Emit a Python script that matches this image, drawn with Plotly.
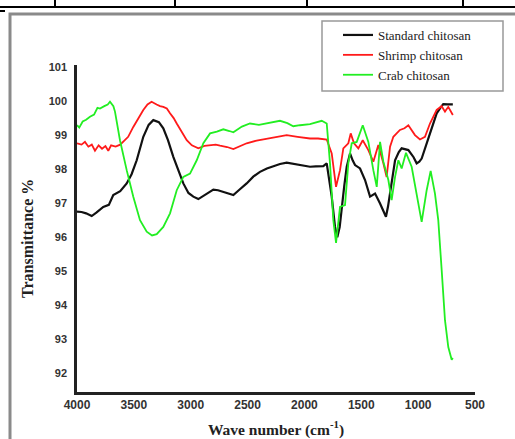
import plotly.graph_objects as go

# ---- data ----
std_wn = [4000, 3960, 3920, 3871, 3830, 3769, 3720, 3681, 3620, 3563, 3520, 3475, 3417, 3370, 3329,
          3280, 3241, 3200, 3153, 3110, 3065, 3020, 2977, 2933, 2870, 2801, 2760, 2713, 2670, 2625,
          2570, 2508, 2450, 2391, 2330, 2274, 2215, 2156, 2098, 2039, 1951, 1900, 1834, 1804, 1760,
          1731, 1711, 1690, 1672, 1650, 1628, 1599, 1575, 1555, 1511, 1467, 1423, 1400, 1379, 1335,
          1283, 1265, 1247, 1225, 1203, 1170, 1145, 1086, 1040, 1013, 990, 969, 940, 910, 870, 837,
          800, 779, 740, 695]
std_t = [96.75, 96.74, 96.70, 96.62, 96.72, 96.89, 96.95, 97.24, 97.35, 97.58, 97.85, 98.26, 98.95, 99.30, 99.44,
         99.38, 99.20, 98.85, 98.36, 97.95, 97.58, 97.30, 97.19, 97.12, 97.25, 97.40, 97.38, 97.33, 97.30, 97.24,
         97.40, 97.58, 97.78, 97.92, 98.02, 98.09, 98.15, 98.19, 98.16, 98.12, 98.07, 98.08, 98.09, 98.17, 97.19,
         96.30, 96.00, 96.30, 96.89, 97.50, 98.07, 98.46, 98.25, 98.12, 98.02, 97.68, 97.19, 97.25, 97.28, 96.99,
         96.60, 96.90, 97.28, 97.80, 98.26, 98.50, 98.61, 98.56, 98.35, 98.17, 98.22, 98.31, 98.60, 98.95, 99.35, 99.64,
         99.82, 99.91, 99.90, 99.90]

shr_wn = [4000, 3960, 3930, 3900, 3870, 3842, 3810, 3780, 3750, 3725, 3700, 3660, 3620, 3593, 3550,
          3505, 3460, 3417, 3380, 3344, 3300, 3270, 3241, 3210, 3182, 3150, 3123, 3080, 3035, 2990,
          2933, 2880, 2830, 2780, 2742, 2680, 2625, 2570, 2508, 2420, 2332, 2250, 2156, 2060, 1951,
          1880, 1804, 1760, 1722, 1687, 1658, 1614, 1593, 1564, 1526, 1487, 1438, 1394, 1350, 1306,
          1277, 1247, 1218, 1160, 1120, 1086, 1050, 1028, 984, 940, 896, 860, 837, 793, 764, 735, 710, 695]
shr_t = [98.76, 98.72, 98.80, 98.66, 98.72, 98.54, 98.70, 98.60, 98.68, 98.54, 98.70, 98.66, 98.72, 98.80, 98.95,
         99.24, 99.50, 99.74, 99.90, 99.98, 99.90, 99.85, 99.83, 99.78, 99.64, 99.50, 99.34, 99.10, 98.85, 98.70,
         98.61, 98.68, 98.71, 98.72, 98.69, 98.65, 98.59, 98.68, 98.76, 98.84, 98.90, 98.95, 99.00, 98.95, 98.90,
         98.90, 98.87, 98.46, 97.48, 97.97, 98.61, 98.76, 99.05, 98.76, 98.61, 98.85, 98.56, 98.22, 98.71, 98.17,
         97.77, 98.66, 98.95, 99.15, 99.20, 99.29, 99.10, 99.00, 98.87, 98.95, 99.34, 99.60, 99.74, 99.85, 99.69, 99.83, 99.70, 99.59]

crb_wn = [4000, 3980, 3950, 3920, 3886, 3850, 3820, 3798, 3760, 3730, 3710, 3680, 3666, 3622, 3563,
          3505, 3446, 3387, 3340, 3299, 3241, 3182, 3123, 3065, 3006, 2947, 2889, 2830, 2770, 2713,
          2660, 2625, 2550, 2479, 2400, 2332, 2215, 2150, 2098, 2039, 1951, 1848, 1804, 1775, 1746,
          1722, 1687, 1643, 1614, 1584, 1540, 1487, 1438, 1394, 1364, 1335, 1306, 1262, 1233, 1203,
          1174, 1145, 1107, 1057, 1013, 969, 925, 890, 852, 823, 793, 764, 735, 705, 695]
crb_t = [99.29, 99.22, 99.40, 99.45, 99.54, 99.60, 99.80, 99.78, 99.85, 99.90, 99.98, 99.85, 99.69, 98.85, 97.97,
         97.19, 96.50, 96.16, 96.05, 96.09, 96.30, 96.70, 97.38, 97.77, 97.87, 98.26, 98.76, 99.05, 99.10, 99.17,
         99.12, 99.08, 99.25, 99.34, 99.30, 99.34, 99.42, 99.35, 99.26, 99.29, 99.32, 99.42, 99.34, 98.17, 96.50,
         95.83, 96.89, 96.94, 98.17, 98.76, 98.80, 99.29, 98.80, 97.97, 97.48, 98.80, 98.22, 97.68, 97.09, 97.77,
         98.26, 98.02, 98.48, 98.07, 97.28, 96.45, 97.38, 97.95, 97.28, 96.50, 95.03, 93.56, 92.77, 92.40, 92.45]

series_names = ["Standard chitosan", "Shrimp chitosan", "Crab chitosan"]
series_colors = ["#111111", "#ff1a1a", "#22ee22"]
y_ticks = [92, 93, 94, 95, 96, 97, 98, 99, 100, 101]
x_ticks = [4000, 3500, 3000, 2500, 2000, 1500, 1000, 500]
x_title = "Wave number (cm<sup>-1</sup>)"
y_title = "Transmittance %"

W, H = 515, 439
L, R, T, B = 77, 40, 65, 47
pw, ph = W - L - R, H - T - B


def px(x):
    return (x - L) / pw


def py(y):
    return (H - B - y) / ph


fig = go.Figure()
for wn, t, name, col, lw in zip([std_wn, shr_wn, crb_wn], [std_t, shr_t, crb_t],
                                series_names, series_colors, [2.2, 1.8, 1.8]):
    fig.add_trace(go.Scatter(x=wn, y=t, mode="lines", name=name,
                             line=dict(color=col, width=lw)))

serif = "Liberation Serif"
sans = "Liberation Sans"

shapes = [
    # outer scanned frame
    dict(type="rect", xref="paper", yref="paper", x0=px(10), x1=px(525), y0=py(14), y1=py(450),
         line=dict(color="#8a8a8a", width=3), layer="below"),
    # table lines at top
    dict(type="line", xref="paper", yref="paper", x0=px(0), x1=px(515), y0=py(7), y1=py(7),
         line=dict(color="black", width=2)),
    dict(type="line", xref="paper", yref="paper", x0=px(0), x1=px(5), y0=py(11), y1=py(11),
         line=dict(color="black", width=2)),
    # legend box
    dict(type="rect", xref="paper", yref="paper", x0=px(322), x1=px(503), y0=py(21), y1=py(91),
         line=dict(color="#999999", width=1.5)),
]
for vx in [55, 175, 307, 463]:
    shapes.append(dict(type="line", xref="paper", yref="paper", x0=px(vx), x1=px(vx), y0=py(0), y1=py(7),
                       line=dict(color="black", width=2)))

annotations = [
    dict(text=y_title, xref="paper", yref="paper", x=px(28), y=py(239), textangle=-90,
         showarrow=False, xanchor="center", yanchor="middle",
         font=dict(family=serif, size=16, color="#222222", weight="bold")),
]

fig.update_layout(
    width=W, height=H,
    margin=dict(l=L, r=R, t=T, b=B, autoexpand=False),
    paper_bgcolor="white", plot_bgcolor="white",
    showlegend=True,
    legend=dict(x=px(338), y=py(20), xanchor="left", yanchor="top",
                font=dict(family=serif, size=13, color="#222222"),
                bgcolor="rgba(0,0,0,0)", borderwidth=0, tracegroupgap=0,
                itemwidth=30),
    shapes=shapes,
    annotations=annotations,
    xaxis=dict(range=[4000, 500], tickvals=x_ticks, ticktext=[str(v) for v in x_ticks],
               showgrid=False, zeroline=False, showline=True, linecolor="#222222", linewidth=2.5,
               ticks="", ticklabelstandoff=0,
               tickfont=dict(family=sans, size=12, color="#333333", weight="bold"),
               title=dict(text=x_title, standoff=13,
                          font=dict(family=serif, size=15.5, color="#222222", weight="bold"))),
    yaxis=dict(range=[91.45, 101.06], tickvals=y_ticks, ticktext=[str(v) for v in y_ticks],
               showgrid=False, zeroline=False, showline=True, linecolor="#222222", linewidth=2.5,
               ticks="", ticklabelstandoff=5,
               tickfont=dict(family=sans, size=11, color="#333333", weight="bold")),
)

fig.write_html("out.html", config={"displayModeBar": False},
               post_script="document.body.style.margin='0';document.body.style.overflow='hidden';")
